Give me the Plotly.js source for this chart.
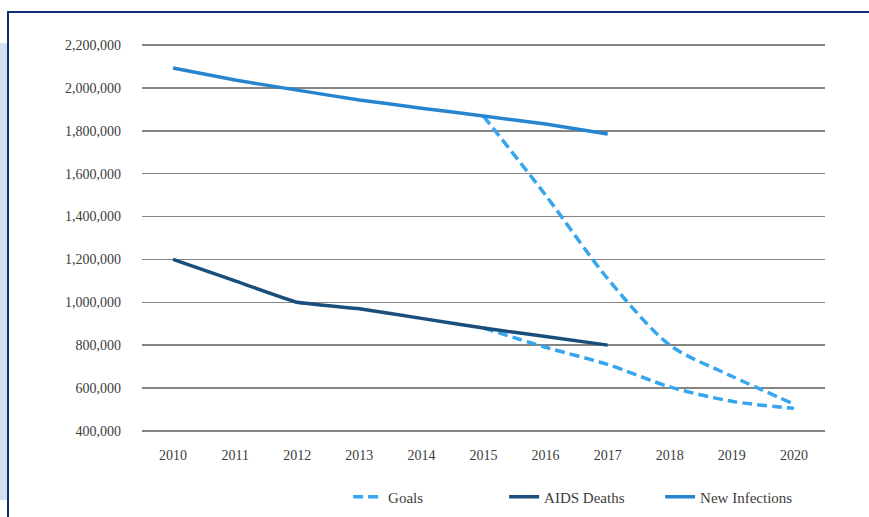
<!DOCTYPE html>
<html>
<head>
<meta charset="utf-8">
<script src="https://cdn.plot.ly/plotly-3.0.1.min.js"></script>
<style>
  html, body { margin: 0; padding: 0; background: #ffffff; }
  #wrap { position: relative; width: 869px; height: 517px; overflow: hidden; }
  #chart { position: absolute; left: 0; top: 0; width: 869px; height: 517px; }
  .frameTop { position: absolute; left: 7px; top: 11px; width: 862px; height: 2px; background: #0d2f7c; }
  .frameLeft { position: absolute; left: 7px; top: 11px; width: 2px; height: 506px; background: #0d2f7c; }
  .strip { position: absolute; left: 0; top: 43px; width: 7px; height: 457px; background: #d3deee; }
</style>
</head>
<body>
<div id="wrap">
  <div id="chart"></div>
  <div class="strip"></div>
  <div class="frameTop"></div>
  <div class="frameLeft"></div>
</div>
<script>
const years = ['2010','2011','2012','2013','2014','2015','2016','2017','2018','2019','2020'];

const infectionYears = ['2010','2011','2012','2013','2014','2015','2016','2017'];
const newInfections = [2093000, 2037000, 1990000, 1944000, 1906000, 1869000, 1832000, 1785000];
const aidsDeaths = [1200000, 1100000, 1000000, 970000, 925000, 880000, 840000, 800000];

const goalYears = ['2015','2016','2017','2018','2019','2020'];
const goalInfections = [1869000, 1500000, 1110000, 800000, 655000, 525000];
const goalDeaths = [880000, 790000, 710000, 605000, 538000, 505000];

const yTicks = [400000, 600000, 800000, 1000000, 1200000, 1400000, 1600000, 1800000, 2000000, 2200000];

const cGoals = '#36a6ef';
const cDeaths = '#1a4e7b';
const cInf = '#2785d0';

const traces = [
  { x: goalYears, y: goalInfections, name: 'Goals', type: 'scatter', mode: 'lines',
    line: { color: cGoals, width: 3.5, dash: '10px,5px', shape: 'spline', smoothing: 0.8 },
    legendgroup: 'goals', showlegend: true },
  { x: goalYears, y: goalDeaths, name: 'Goals', type: 'scatter', mode: 'lines',
    line: { color: cGoals, width: 3.5, dash: '10px,5px', shape: 'spline', smoothing: 0.8 },
    legendgroup: 'goals', showlegend: false },
  { x: infectionYears, y: aidsDeaths, name: 'AIDS Deaths', type: 'scatter', mode: 'lines',
    line: { color: cDeaths, width: 3.5, shape: 'spline', smoothing: 0.3 } },
  { x: infectionYears, y: newInfections, name: 'New Infections', type: 'scatter', mode: 'lines',
    line: { color: cInf, width: 3.5, shape: 'spline', smoothing: 0.3 } }
];

const layout = {
  width: 869, height: 517,
  margin: { l: 142, r: 44, t: 43, b: 84 },
  paper_bgcolor: 'rgba(0,0,0,0)',
  plot_bgcolor: 'rgba(0,0,0,0)',
  font: { family: '"Liberation Serif", "DejaVu Serif", serif', size: 14, color: '#3c3c3c' },
  showlegend: true,
  legend: {
    orientation: 'h', xref: 'container', yref: 'container',
    x: 0.4006, xanchor: 'left', y: 0.0387, yanchor: 'middle',
    font: { size: 15, color: '#3c3c3c' }, traceorder: 'normal',
    entrywidth: 111, entrywidthmode: 'pixels'
  },
  xaxis: {
    type: 'category', categoryorder: 'array', categoryarray: years,
    range: [-0.5, 10.5], showgrid: false, zeroline: false, showline: false,
    ticks: '', ticklen: 0, tickfont: { size: 14, color: '#3c3c3c' }, ticklabelstandoff: 12
  },
  yaxis: {
    range: [390000, 2210000], tickvals: yTicks, tickformat: ',d',
    showgrid: true, gridcolor: '#858585', gridwidth: 1.3, zeroline: false, showline: false,
    ticks: '', tickfont: { size: 14, color: '#3c3c3c' }, ticklabelstandoff: 20
  }
};

Plotly.newPlot('chart', traces, layout, { displayModeBar: false, staticPlot: true });
</script>
</body>
</html>
